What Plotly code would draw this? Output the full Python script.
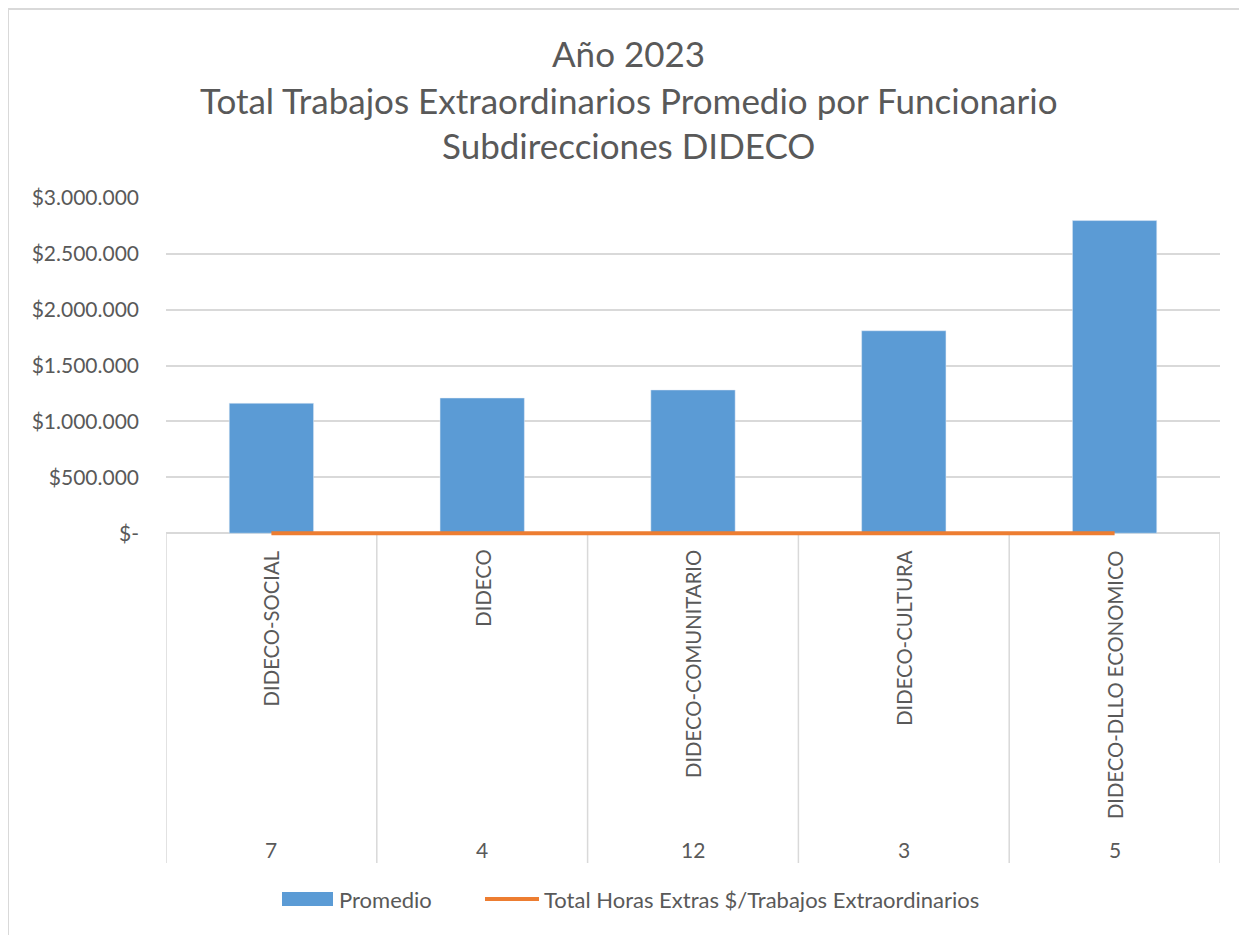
import plotly.graph_objects as go

# data
categories = ["DIDECO-SOCIAL", "DIDECO", "DIDECO-COMUNITARIO", "DIDECO-CULTURA", "DIDECO-DLLO ECONOMICO"]
funcionarios = ["7", "4", "12", "3", "5"]
promedio = [1163000, 1210000, 1282000, 1812000, 2798000]
total_horas = [0, 0, 0, 0, 0]

y_ticks = [0, 500000, 1000000, 1500000, 2000000, 2500000, 3000000]
y_labels = ["$-", "$500.000", "$1.000.000", "$1.500.000", "$2.000.000", "$2.500.000", "$3.000.000"]

title_lines = ["Año 2023",
               "Total Trabajos Extraordinarios Promedio por Funcionario",
               "Subdirecciones DIDECO"]

FONT = "Lato"
GREY = "#595959"
LINE = "#d9d9d9"
BLUE = "#5b9bd5"
ORANGE = "#ed7d31"

fig = go.Figure()
fig.add_trace(go.Bar(x=categories, y=promedio, name="Promedio", marker_color=BLUE))
fig.add_trace(go.Scatter(x=categories, y=total_horas, mode="lines", cliponaxis=False,
                         name="Total Horas Extras $/Trabajos Extraordinarios",
                         line=dict(color=ORANGE, width=4)))


# screen pixel -> paper coords (page has an 8px body margin; plot area 166..1220 x 198..536)
def py(p):
    return (536 - p) / 338.0


def px(p):
    return (p - 166) / 1054.0


annotations = []
for line, ypix in zip(title_lines, [53, 100, 145]):
    annotations.append(dict(text=line, x=px(628), xref="paper", y=py(ypix), yref="paper",
                            showarrow=False, xanchor="center", yanchor="middle",
                            font=dict(family=FONT, size=35, color=GREY)))

for cat, n in zip(categories, funcionarios):
    annotations.append(dict(text=cat, x=cat, xref="x", y=py(548), yref="paper", textangle=-90,
                            showarrow=False, xanchor="center", yanchor="top",
                            font=dict(family=FONT, size=20.3, color=GREY)))
    annotations.append(dict(text=n, x=cat, xref="x", y=py(849), yref="paper",
                            showarrow=False, xanchor="center", yanchor="middle",
                            font=dict(family=FONT, size=21, color=GREY)))

shapes = []
# category frame: top line at zero and separators
shapes.append(dict(type="line", xref="x", yref="y", x0=-0.5, x1=4.5, y0=0, y1=0,
                   line=dict(color=LINE, width=1.5), layer="below"))
for i in range(len(categories) + 1):
    shapes.append(dict(type="line", xref="x", yref="paper", x0=i - 0.5, x1=i - 0.5,
                       y0=py(533), y1=py(863), line=dict(color=LINE, width=1.5), layer="below"))
# chart border (left and top)
shapes.append(dict(type="line", xref="paper", yref="paper", x0=px(8), x1=px(8),
                   y0=py(9), y1=py(960), line=dict(color=LINE, width=2)))
shapes.append(dict(type="line", xref="paper", yref="paper", x0=px(7), x1=px(1260),
                   y0=py(9), y1=py(9), line=dict(color=LINE, width=2)))

# legend drawn by hand, Excel style
shapes.append(dict(type="rect", xref="paper", yref="paper", x0=px(282), x1=px(333),
                   y0=py(906), y1=py(892), fillcolor=BLUE, line=dict(width=0)))
shapes.append(dict(type="line", xref="paper", yref="paper", x0=px(485), x1=px(539),
                   y0=py(899), y1=py(899), line=dict(color=ORANGE, width=4)))
for name, xpix in [(fig.data[0].name, 337), (fig.data[1].name, 542)]:
    annotations.append(dict(text=name, x=px(xpix), xref="paper", y=py(899), yref="paper",
                            showarrow=False, xanchor="left", yanchor="middle",
                            font=dict(family=FONT, size=22, color=GREY)))

fig.update_layout(
    width=1239, height=927,
    margin=dict(l=158, r=27, t=190, b=399),
    paper_bgcolor="white", plot_bgcolor="white",
    bargap=0.6,
    font=dict(family=FONT, color=GREY),
    showlegend=False,
    annotations=annotations,
    shapes=shapes,
)
fig.update_xaxes(showticklabels=False, showgrid=False, showline=False,
                 ticks="", range=[-0.5, 4.5])
fig.update_yaxes(range=[-25000, 3000000], tickvals=y_ticks, ticktext=y_labels,
                 showgrid=True, gridcolor=LINE, gridwidth=1.5, zeroline=False,
                 ticks="", ticklabelstandoff=26,
                 tickfont=dict(family=FONT, size=21, color=GREY))

fig.write_html("out.html")
